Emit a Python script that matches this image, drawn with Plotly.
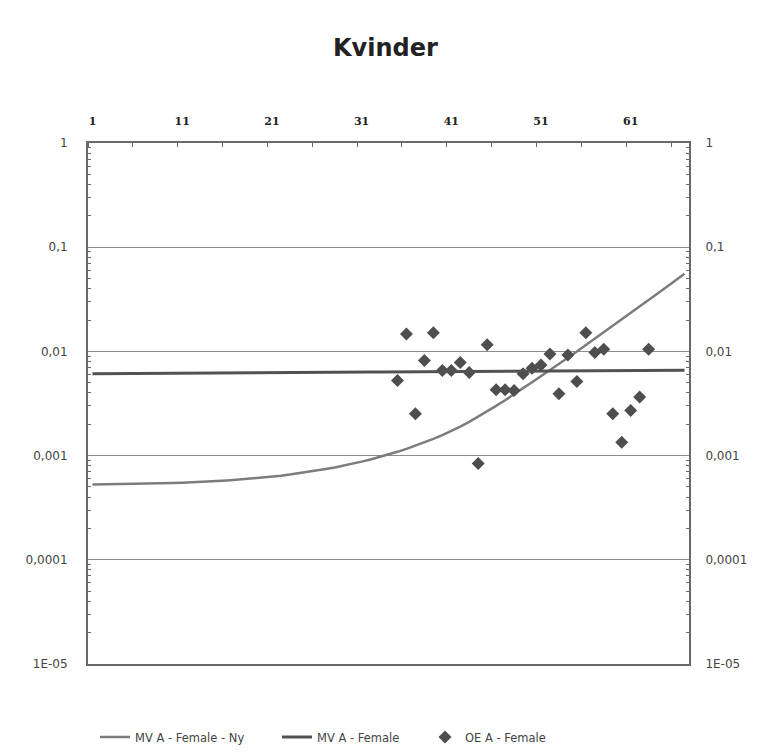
import plotly.graph_objects as go

# Categories (ages 1..67)
categories = list(range(1, 68))

# MV A - Female - Ny (curve)
mva_ny = [0.000527, 0.000528, 0.000529, 0.000530, 0.000532, 0.000534, 0.000536, 0.000539, 0.000542, 0.000545,
          0.000549, 0.000553, 0.000558, 0.000564, 0.000570, 0.000577, 0.000585, 0.000594, 0.000604, 0.000615,
          0.000627, 0.000641, 0.000657, 0.000675, 0.000695, 0.000717, 0.000742, 0.000770, 0.000801, 0.000836,
          0.000875, 0.000919, 0.000968, 0.001024, 0.001087, 0.001160, 0.001243, 0.001338, 0.001447, 0.001570,
          0.00172, 0.00190, 0.00211, 0.00236, 0.00266, 0.00300, 0.00340, 0.00391, 0.00444, 0.00506,
          0.00577, 0.00660, 0.00757, 0.00868, 0.00997, 0.01147, 0.01319, 0.01520, 0.01752, 0.02021,
          0.02332, 0.02692, 0.03110, 0.03593, 0.04152, 0.04801, 0.05551]

# MV A - Female (near flat line)
mva = [0.00610, 0.00611, 0.00612, 0.00612, 0.00613, 0.00614, 0.00615, 0.00615, 0.00616, 0.00617,
       0.00618, 0.00618, 0.00619, 0.00620, 0.00621, 0.00621, 0.00622, 0.00623, 0.00624, 0.00624,
       0.00625, 0.00626, 0.00627, 0.00627, 0.00628, 0.00629, 0.00630, 0.00631, 0.00631, 0.00632,
       0.00633, 0.00634, 0.00634, 0.00635, 0.00636, 0.00637, 0.00637, 0.00638, 0.00639, 0.00640,
       0.00640, 0.00641, 0.00642, 0.00643, 0.00643, 0.00644, 0.00645, 0.00646, 0.00646, 0.00647,
       0.00648, 0.00649, 0.00649, 0.00650, 0.00651, 0.00652, 0.00652, 0.00653, 0.00654, 0.00655,
       0.00655, 0.00656, 0.00657, 0.00658, 0.00658, 0.00659, 0.00660]

# OE A - Female (observed points, ages 35..63)
oe_ages = list(range(35, 64))
oe_vals = [0.00526, 0.0147, 0.00252, 0.00816, 0.0151, 0.00655, 0.00655, 0.00782, 0.00627, 0.000838,
           0.0116, 0.00428, 0.00428, 0.00421, 0.00609, 0.00690, 0.00742, 0.00946, 0.00392, 0.00926,
           0.00514, 0.0151, 0.00975, 0.0105, 0.00252, 0.00134, 0.00271, 0.00365, 0.0105]

x_tick_vals = [1, 11, 21, 31, 41, 51, 61]
y_tick_vals = [1e-5, 1e-4, 1e-3, 1e-2, 1e-1, 1]
y_tick_text = ["1E-05", "0,0001", "0,001", "0,01", "0,1", "1"]

FONT = "DejaVu Sans"
GRID = "#8c8c8c"
AXIS = "#6a6a6a"

fig = go.Figure()
fig.add_trace(go.Scatter(x=categories, y=mva_ny, mode="lines", name="MV A - Female - Ny",
                         line=dict(color="#7c7c7c", width=2.5), legend="legend",
                         showlegend=True))
fig.add_trace(go.Scatter(x=categories, y=mva, mode="lines", name="MV A - Female",
                         line=dict(color="#525252", width=3), yaxis="y2", legend="legend2",
                         showlegend=True))
fig.add_trace(go.Scatter(x=oe_ages, y=oe_vals, mode="markers", name="OE A - Female",
                         marker=dict(symbol="diamond", size=10, color="#4e4e4e"),
                         legend="legend3", showlegend=True))

minor_y = [k * 10 ** e for e in range(-5, 0) for k in range(2, 10)]

yaxis_common = dict(
    type="log", range=[-5, 0], tickmode="array", tickvals=y_tick_vals, ticktext=y_tick_text,
    showline=True, linecolor=AXIS, linewidth=2, ticks="", showgrid=True,
    gridcolor=GRID, gridwidth=1, zeroline=False,
    tickfont=dict(family=FONT, size=12, color="#444"),
    minor=dict(tickmode="array", tickvals=minor_y, ticks="inside", ticklen=3,
               tickcolor=AXIS, showgrid=False),
)

legend_common = dict(orientation="h", y=-0.138, yanchor="middle", xanchor="left",
                     font=dict(family=FONT, size=11.5, color="#444"), itemwidth=30,
                     bgcolor="rgba(0,0,0,0)")

fig.update_layout(
    width=767, height=754,
    showlegend=True,
    paper_bgcolor="white", plot_bgcolor="white",
    margin=dict(l=80, r=86, t=135, b=97),
    title=dict(text="<b>Kvinder</b>", x=0.492, xanchor="center", y=0.948, yanchor="middle",
               yref="container", font=dict(family=FONT, size=24, color="#222")),
    xaxis=dict(side="top", range=[0.5, 67.5], tickmode="array", tickvals=x_tick_vals,
               ticks="", showline=True, mirror=True, linecolor=AXIS, linewidth=1.5,
               showgrid=False, zeroline=False, ticklabelstandoff=12,
               tickfont=dict(family="DejaVu Serif", size=11, color="#222", weight="bold"),
               minor=dict(tickmode="linear", tick0=0.5, dtick=5, ticks="inside",
                          ticklen=4, tickcolor=AXIS, showgrid=False)),
    yaxis=dict(**yaxis_common, side="left", ticklabelstandoff=16),
    yaxis2=dict(**yaxis_common, side="right", overlaying="y", ticklabelstandoff=12),
    legend=dict(**legend_common, x=(95 - 88) / 601),
    legend2=dict(**legend_common, x=(277 - 88) / 601),
    legend3=dict(**legend_common, x=(425 - 88) / 601),
)

fig.write_html("out.html")
